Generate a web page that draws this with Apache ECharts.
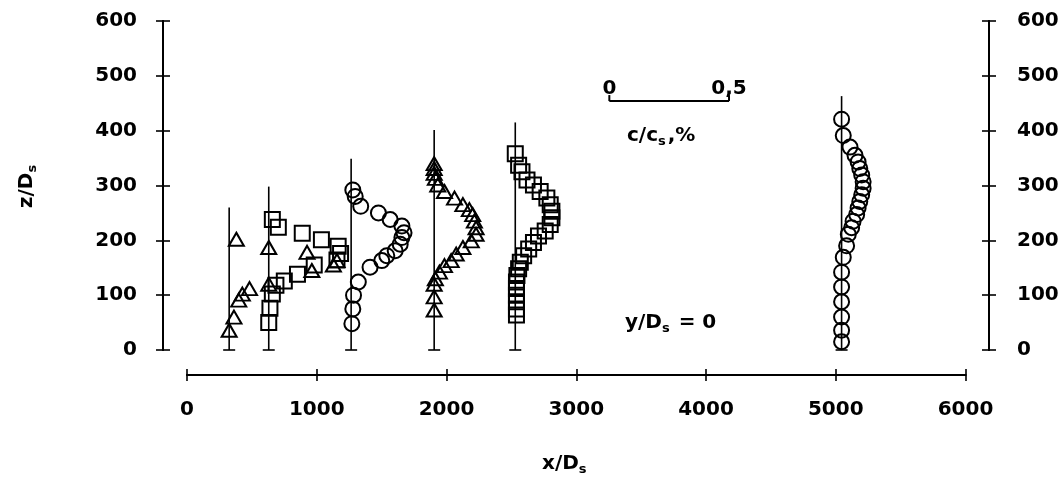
<!DOCTYPE html>
<html>
<head>
<meta charset="utf-8">
<script src="https://cdn.jsdelivr.net/npm/echarts@6/dist/echarts.min.js"></script>
<style>
  html, body { margin: 0; padding: 0; background: #fff; }
  #chart { width: 1062px; height: 481px; }
</style>
</head>
<body>
<div id="chart"></div>
<script>
// Measuring stations along the plume axis (x/Ds) and the height of each station mast (z/Ds)
const stationX = [325, 630, 1265, 1905, 2530, 5045];
const stationTop = [260, 298, 349, 401, 415, 463];

// Vertical concentration profiles: [z/Ds, c/cs in %]
const st1Triangles = [[202, 0.03], [112, 0.085], [102, 0.055], [91, 0.04], [60, 0.02], [36, 0.0]];
const st2Squares = [[238, 0.015], [224, 0.04], [213, 0.14], [201, 0.22], [189, 0.29], [176, 0.3],
  [164, 0.285], [155, 0.19], [138, 0.12], [126, 0.065], [118, 0.03], [102, 0.015], [76, 0.005], [50, 0.0]];
const st2Triangles = [[187, 0.0], [178, 0.16], [163, 0.285], [155, 0.27], [145, 0.18], [120, 0.0]];
const st3Circles = [[292, 0.007], [280, 0.017], [262, 0.04], [250, 0.114], [238, 0.163], [226, 0.212],
  [214, 0.221], [205, 0.212], [193, 0.205], [181, 0.184], [172, 0.149], [163, 0.128], [151, 0.079],
  [124, 0.03], [100, 0.01], [75, 0.007], [48, 0.003]];
const st4Triangles = [[340, 0.0], [331, 0.0], [322, 0.0], [313, 0.005], [301, 0.015], [289, 0.043],
  [277, 0.085], [265, 0.12], [256, 0.147], [247, 0.161], [235, 0.168], [223, 0.175], [211, 0.175],
  [199, 0.155], [187, 0.12], [175, 0.092], [163, 0.071], [154, 0.043], [142, 0.022], [130, 0.005],
  [120, 0.0], [97, 0.0], [73, 0.0]];
const st5Squares = [[358, 0.0], [337, 0.014], [325, 0.028], [310, 0.049], [301, 0.076], [289, 0.104],
  [277, 0.132], [265, 0.146], [253, 0.153], [241, 0.153], [229, 0.146], [217, 0.125], [208, 0.097],
  [196, 0.076], [184, 0.056], [172, 0.035], [160, 0.021], [148, 0.014], [136, 0.007], [124, 0.005],
  [112, 0.005], [100, 0.005], [88, 0.005], [75, 0.005], [64, 0.005]];
const st6Circles = [[421, 0.0], [391, 0.007], [370, 0.035], [355, 0.056], [343, 0.069], [331, 0.076],
  [319, 0.084], [307, 0.09], [295, 0.09], [283, 0.084], [271, 0.076], [259, 0.069], [247, 0.063],
  [235, 0.048], [223, 0.042], [211, 0.028], [190, 0.021], [169, 0.007], [142, 0.0], [115, 0.0],
  [88, 0.0], [60, 0.0], [36, 0.0], [15, 0.0]];

// Axis ticks
const xTicks = [0, 1000, 2000, 3000, 4000, 5000, 6000];
const zTicks = [0, 100, 200, 300, 400, 500, 600];

// Concentration scale of the profiles: 1 % of c/cs spans this many x/Ds units
const PCT_TO_X = 1845;
const scaleBarValues = [0, 0.5];
const scaleBarLabels = ['0', '0,5'];
const SCALE_BAR_ANCHOR = { x: 3255, z: 454 };

const FONT = 'DejaVu Sans';
const INK = '#000';

const profiles = [
  { station: 0, symbol: 'triangle', points: st1Triangles },
  { station: 1, symbol: 'rect', points: st2Squares },
  { station: 1, symbol: 'triangle', points: st2Triangles },
  { station: 2, symbol: 'circle', points: st3Circles },
  { station: 3, symbol: 'triangle', points: st4Triangles },
  { station: 4, symbol: 'rect', points: st5Squares },
  { station: 5, symbol: 'circle', points: st6Circles }
];

const symbolSizes = { triangle: [15, 13], rect: 15, circle: 15 };

const chart = echarts.init(document.getElementById('chart'), null, { renderer: 'canvas' });

const labelStyle = { fontFamily: FONT, fontWeight: 'bold', fontSize: 20, color: INK };
const axisLine = { show: true, onZero: false, lineStyle: { color: INK, width: 2 } };
const plainNumber = v => String(v);

function xAxisBase(inside, showLabel) {
  return {
    type: 'value', position: 'bottom', offset: 25,
    min: xTicks[0], max: xTicks[xTicks.length - 1], interval: xTicks[1] - xTicks[0],
    axisLine: axisLine,
    axisTick: { show: true, inside: inside, length: 6, lineStyle: { color: INK, width: 1.6 } },
    axisLabel: Object.assign({ show: showLabel, margin: 25, formatter: plainNumber }, labelStyle),
    splitLine: { show: false }
  };
}
function yAxisBase(position, offset, inside, showLabel, margin) {
  return {
    type: 'value', position: position, offset: offset,
    min: zTicks[0], max: zTicks[zTicks.length - 1], interval: zTicks[1] - zTicks[0],
    axisLine: axisLine,
    axisTick: { show: true, inside: inside, length: 7, lineStyle: { color: INK, width: 1.6 } },
    axisLabel: Object.assign({ show: showLabel, margin: margin, formatter: plainNumber }, labelStyle),
    splitLine: { show: false }
  };
}

const subRich = {
  m: { fontFamily: FONT, fontWeight: 'bold', fontSize: 20, color: INK },
  s: { fontFamily: FONT, fontWeight: 'bold', fontSize: 13, color: INK, padding: [12, 2, 0, 0] }
};

const xMain = xAxisBase(false, true);
xMain.name = '{m|x/D}{s|s}';
xMain.nameLocation = 'middle';
xMain.nameGap = 76;
xMain.nameTextStyle = { rich: subRich, padding: [0, 22, 0, 0] };

const yMain = yAxisBase('left', 24, false, true, 26);
yMain.name = '{m|z/D}{s|s}';
yMain.nameLocation = 'middle';
yMain.nameGap = 124;
yMain.nameTextStyle = { rich: subRich };

const series = [];

// Station masts with a foot tick at z = 0
series.push({
  type: 'custom',
  xAxisIndex: 0, yAxisIndex: 0,
  silent: true,
  data: stationX.map((x, i) => [x, stationTop[i]]),
  renderItem: function (params, api) {
    const b = api.coord([api.value(0), 0]);
    const t = api.coord([api.value(0), api.value(1)]);
    return {
      type: 'group',
      children: [
        { type: 'line', shape: { x1: b[0], y1: b[1], x2: t[0], y2: t[1] }, style: { stroke: INK, lineWidth: 1.6 } },
        { type: 'line', shape: { x1: b[0] - 6, y1: b[1], x2: b[0] + 6, y2: b[1] }, style: { stroke: INK, lineWidth: 1.6 } }
      ]
    };
  }
});

// Concentration profiles, offset from each mast by c/cs
profiles.forEach(p => {
  series.push({
    type: 'scatter',
    xAxisIndex: 0, yAxisIndex: 0,
    symbol: p.symbol,
    symbolSize: symbolSizes[p.symbol],
    itemStyle: { color: 'rgba(255,255,255,0)', borderColor: INK, borderWidth: 2, opacity: 1 },
    data: p.points.map(([z, c]) => [stationX[p.station] + c * PCT_TO_X, z])
  });
});

// Concentration scale bar
series.push({
  type: 'custom',
  xAxisIndex: 0, yAxisIndex: 0,
  silent: true,
  data: [[SCALE_BAR_ANCHOR.x, SCALE_BAR_ANCHOR.z]],
  renderItem: function (params, api) {
    const x0 = api.value(0), z0 = api.value(1);
    const pts = scaleBarValues.map(v => api.coord([x0 + v * PCT_TO_X, z0]));
    const children = [
      { type: 'line', shape: { x1: pts[0][0], y1: pts[0][1], x2: pts[1][0], y2: pts[1][1] }, style: { stroke: INK, lineWidth: 2 } }
    ];
    pts.forEach((pt, i) => {
      children.push({ type: 'line', shape: { x1: pt[0], y1: pt[1], x2: pt[0], y2: pt[1] - 6 }, style: { stroke: INK, lineWidth: 2 } });
      children.push({
        type: 'text',
        style: {
          x: pt[0], y: pt[1] - 12, text: scaleBarLabels[i],
          fill: INK, font: 'bold 20px "' + FONT + '"', align: 'center', verticalAlign: 'middle'
        }
      });
    });
    return { type: 'group', children: children };
  }
});

const option = {
  backgroundColor: '#fff',
  animation: false,
  grid: { left: 187, right: 96.5, top: 21, bottom: 127.5, containLabel: false },
  xAxis: [xMain, xAxisBase(true, false)],
  yAxis: [
    yMain,
    yAxisBase('left', 24, true, false, 26),
    yAxisBase('right', 23.5, false, true, 28),
    yAxisBase('right', 23.5, true, false, 28)
  ],
  graphic: [
    {
      type: 'text', left: 627, top: 126,
      style: { text: '{m|c/c}{s|s}{m|,%}', rich: subRich }
    },
    {
      type: 'text', left: 625, top: 313,
      style: { text: '{m|y/D}{s|s}{m| = 0}', rich: subRich }
    }
  ],
  series: series
};

chart.setOption(option);
</script>
</body>
</html>
